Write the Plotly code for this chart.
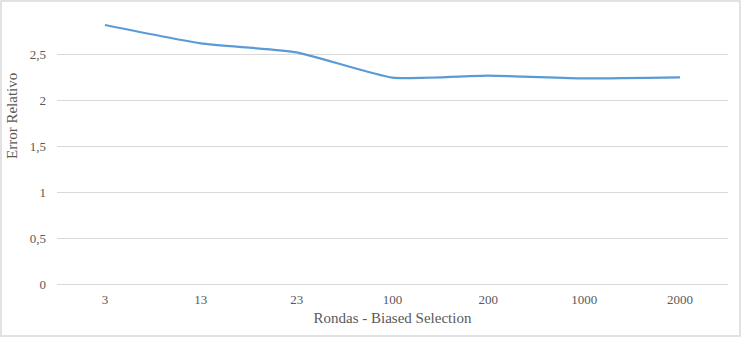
import plotly.graph_objects as go

categories = ["3", "13", "23", "100", "200", "1000", "2000"]
error_relativo = [2.815, 2.616, 2.518, 2.243, 2.264, 2.236, 2.247]
y_tickvals = [0, 0.5, 1, 1.5, 2, 2.5]
y_ticktext = ["0", "0,5", "1", "1,5", "2", "2,5"]

W, H = 742, 338
L, R, T, B = 57, 14, 8, 54
pw, ph = W - L - R, H - T - B

fig = go.Figure()
fig.add_trace(go.Scatter(
    x=categories, y=error_relativo, mode="lines",
    line=dict(color="#5B9BD5", width=2.25, shape="spline", smoothing=0.5),
    showlegend=False, hoverinfo="x+y"))

font_family = "Liberation Serif, Times New Roman, serif"
fig.update_layout(
    width=W, height=H,
    margin=dict(l=L, r=R, t=T, b=B),
    paper_bgcolor="white", plot_bgcolor="white",
    font=dict(family=font_family, color="#595959", size=13),
    xaxis=dict(type="category", range=[-0.5, len(categories) - 0.5], showgrid=False,
               showline=True, linecolor="#D9D9D9", linewidth=1, ticks="",
               ticklabelstandoff=3,
               tickfont=dict(size=13, color="#595959"),
               title=dict(text="Rondas - Biased Selection", font=dict(size=15, color="#595959"), standoff=6)),
    yaxis=dict(range=[0, 3], tickvals=y_tickvals, ticktext=y_ticktext, showgrid=True,
               gridcolor="#D9D9D9", gridwidth=1, zeroline=False, showline=False, ticks="",
               ticklabelstandoff=10,
               tickfont=dict(size=13, color="#595959")),
)
fig.add_annotation(text="Error Relativo", textangle=-90, showarrow=False,
                   xref="paper", yref="paper", x=(12 - L) / pw, y=(T + ph - 116) / ph,
                   xanchor="center", yanchor="middle",
                   font=dict(size=15, color="#595959", family=font_family))
fig.add_shape(type="rect", xref="paper", yref="paper",
              x0=(1 - L) / pw, x1=(W - 2 - L) / pw,
              y0=-(H - 2 - (T + ph)) / ph,
              y1=(T + ph - 1) / ph,
              line=dict(color="#D9D9D9", width=1.5), layer="below")

fig.write_html("out.html", config={"displayModeBar": False},
               post_script="document.body.style.margin='0';document.body.style.overflow='hidden';")
